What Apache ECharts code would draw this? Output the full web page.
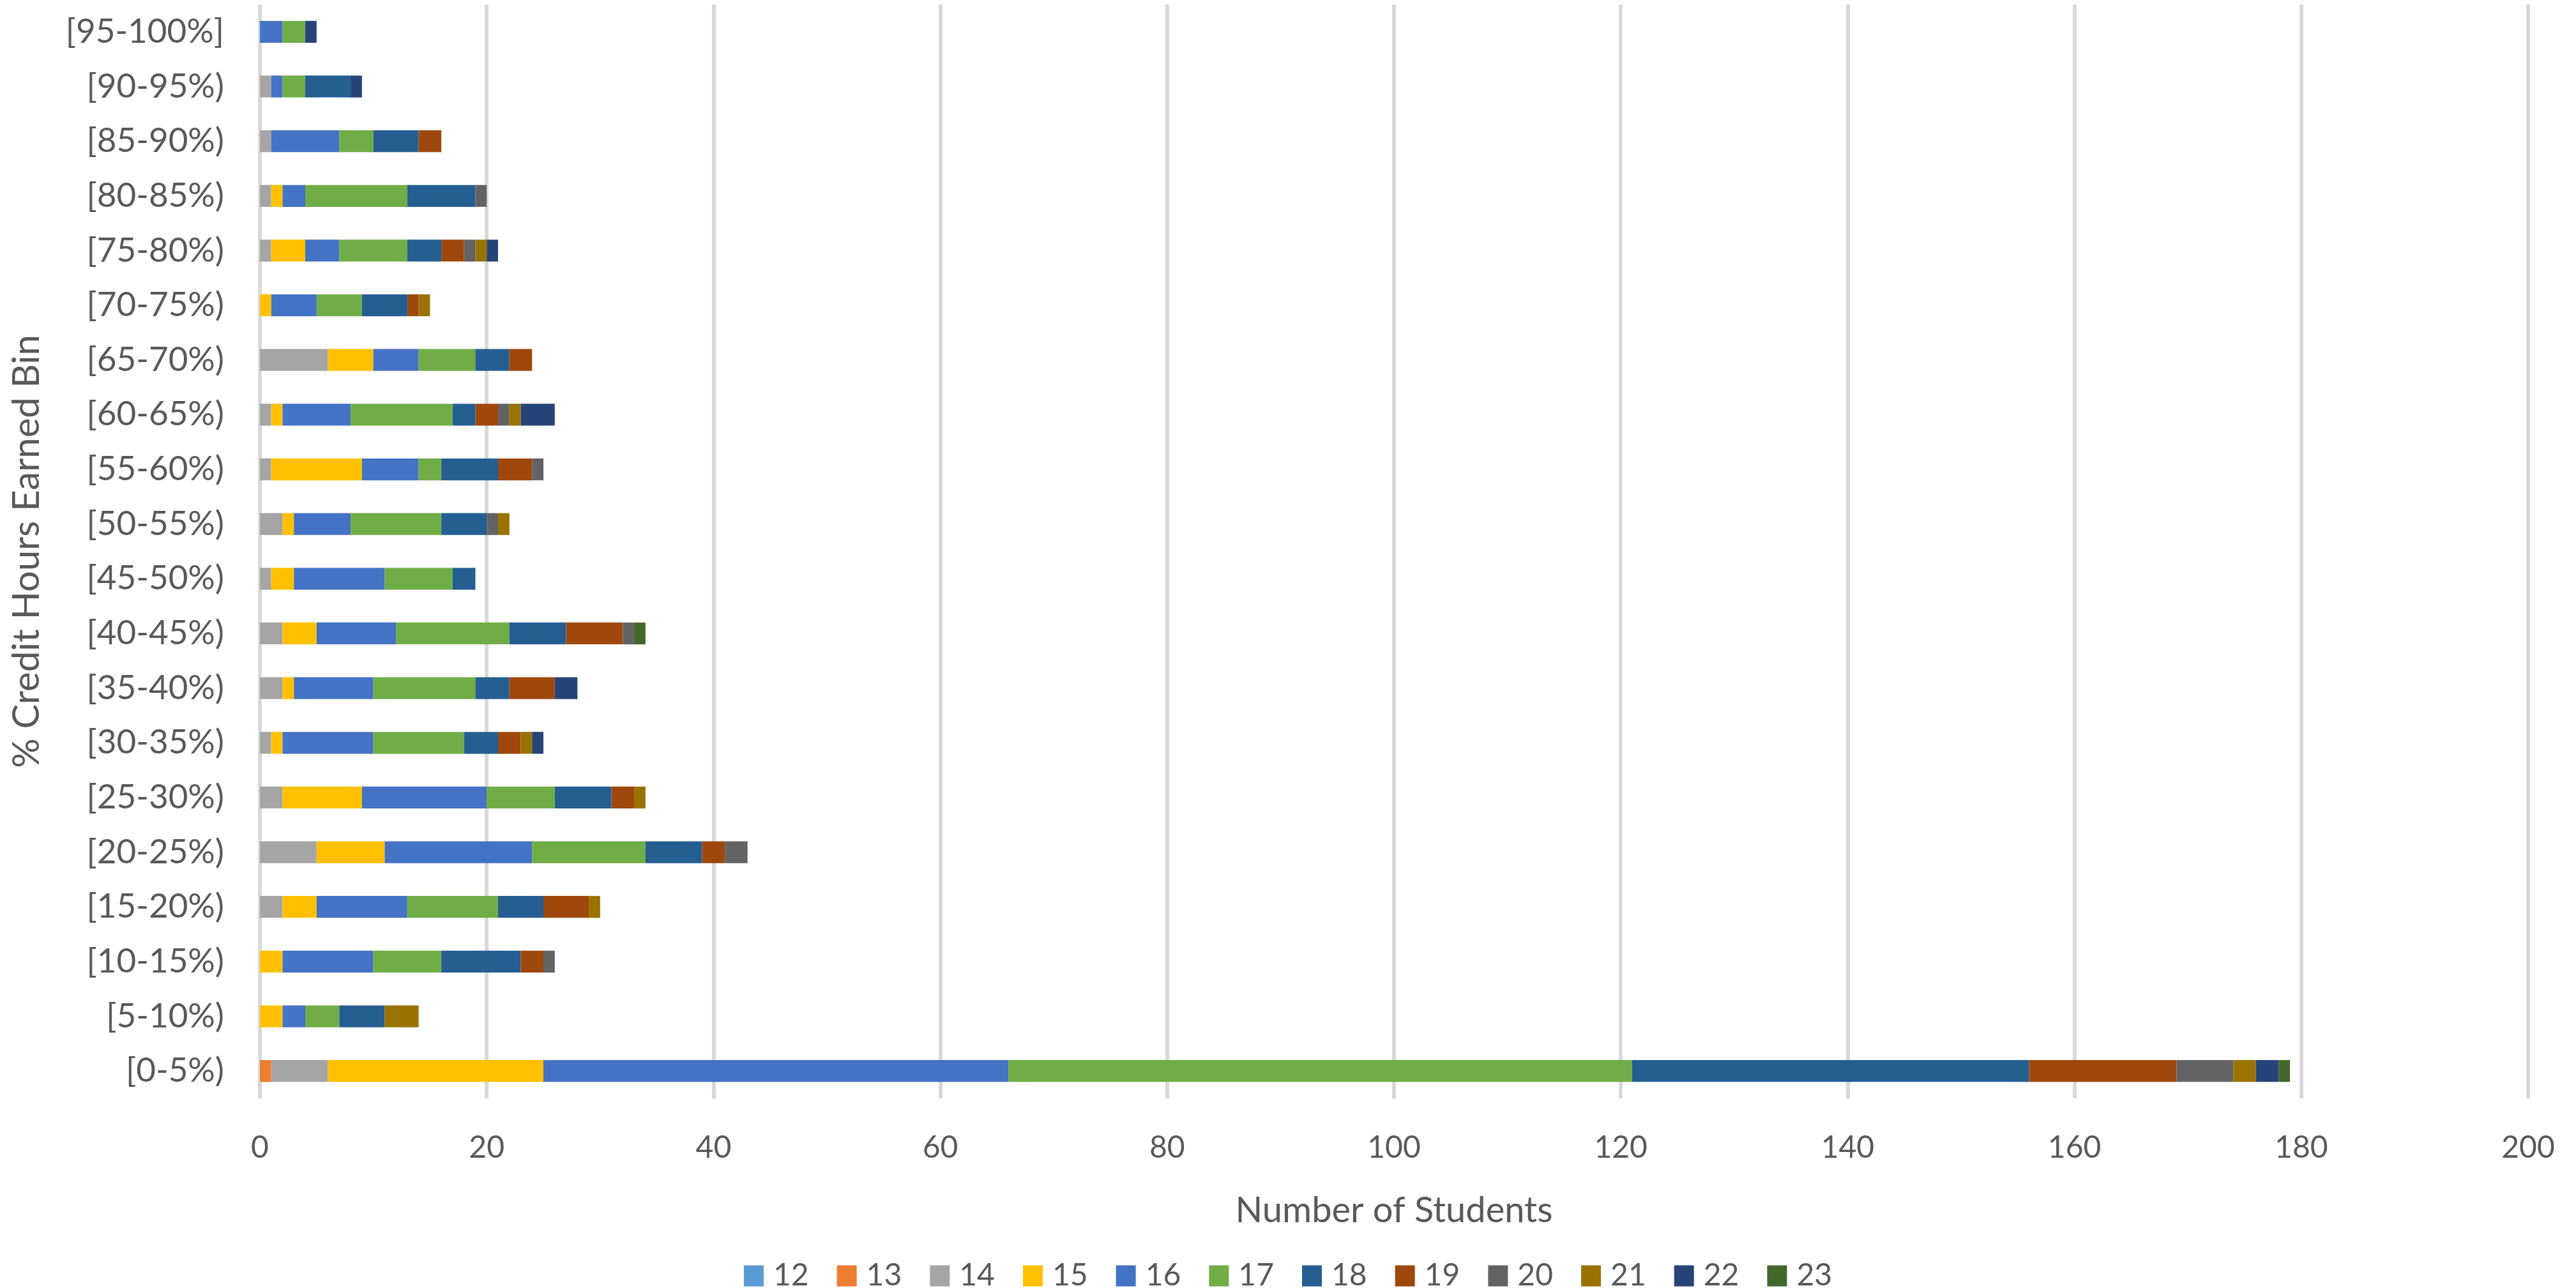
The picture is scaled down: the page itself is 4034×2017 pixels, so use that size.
<!DOCTYPE html>
<html>
<head>
<meta charset="utf-8">
<script src="https://cdn.jsdelivr.net/npm/echarts@6/dist/echarts.min.js"></script>
<style>html,body{margin:0;padding:0;background:#fff;}#c{width:4034px;height:2017px;}</style>
</head>
<body>
<div id="c"></div>
<script>
const categories = ['[0-5%)','[5-10%)','[10-15%)','[15-20%)','[20-25%)','[25-30%)','[30-35%)','[35-40%)','[40-45%)','[45-50%)','[50-55%)','[55-60%)','[60-65%)','[65-70%)','[70-75%)','[75-80%)','[80-85%)','[85-90%)','[90-95%)','[95-100%]'];
const seriesNames = ['12','13','14','15','16','17','18','19','20','21','22','23'];
const age12 = [0,0,0,0,0,0,0,0,0,0,0,0,0,0,0,0,0,0,0,0];
const age13 = [1,0,0,0,0,0,0,0,0,0,0,0,0,0,0,0,0,0,0,0];
const age14 = [5,0,0,2,5,2,1,2,2,1,2,1,1,6,0,1,1,1,1,0];
const age15 = [19,2,2,3,6,7,1,1,3,2,1,8,1,4,1,3,1,0,0,0];
const age16 = [41,2,8,8,13,11,8,7,7,8,5,5,6,4,4,3,2,6,1,2];
const age17 = [55,3,6,8,10,6,8,9,10,6,8,2,9,5,4,6,9,3,2,2];
const age18 = [35,4,7,4,5,5,3,3,5,2,4,5,2,3,4,3,6,4,4,0];
const age19 = [13,0,2,4,2,2,2,4,5,0,0,3,2,2,1,2,0,2,0,0];
const age20 = [5,0,1,0,2,0,0,0,1,0,1,1,1,0,0,1,1,0,0,0];
const age21 = [2,3,0,1,0,1,1,0,0,0,1,0,1,0,1,1,0,0,0,0];
const age22 = [2,0,0,0,0,0,1,2,0,0,0,0,3,0,0,1,0,0,1,1];
const age23 = [1,0,0,0,0,0,0,0,1,0,0,0,0,0,0,0,0,0,0,0];
const seriesValues = [age12,age13,age14,age15,age16,age17,age18,age19,age20,age21,age22,age23];
const xTicks = {min: 0, max: 200, interval: 20};

const colors = ['#5B9BD5','#ED7D31','#A5A5A5','#FFC000','#4472C4','#70AD47','#255E91','#9E480E','#636363','#997300','#264478','#43682B'];
const font = 'Lato, "Open Sans", sans-serif';
const txt = '#595959';

const chart = echarts.init(document.getElementById('c'), null, {renderer: 'canvas'});
chart.setOption({
  animation: false,
  backgroundColor: '#fff',
  color: colors,
  grid: {left: 407, right: 75, top: 7, bottom: 297, containLabel: false},
  legend: {
    data: seriesNames,
    top: 1969,
    left: 'center',
    itemWidth: 31,
    itemHeight: 33,
    itemGap: 44,
    icon: 'rect',
    textStyle: {fontFamily: font, fontSize: 48, color: txt, padding: [0,0,0,10]}
  },
  xAxis: {
    type: 'value',
    min: xTicks.min, max: xTicks.max, interval: xTicks.interval,
    name: 'Number of Students',
    nameLocation: 'middle',
    nameGap: 148,
    nameTextStyle: {fontFamily: font, fontSize: 56, color: txt},
    axisLine: {show: false},
    axisTick: {show: false},
    axisLabel: {fontFamily: font, fontSize: 48, color: txt, margin: 54},
    splitLine: {show: true, lineStyle: {color: '#D9D9D9', width: 6}}
  },
  yAxis: {
    type: 'category',
    data: categories,
    name: '% Credit Hours Earned Bin',
    nameLocation: 'middle',
    nameGap: 336,
    nameRotate: 90,
    nameTextStyle: {fontFamily: font, fontSize: 58, color: txt},
    axisLine: {show: false},
    axisTick: {show: false},
    axisLabel: {fontFamily: font, fontSize: 53, color: txt, margin: 56},
    splitLine: {show: false}
  },
  series: seriesNames.map((n, i) => ({
    name: n,
    type: 'bar',
    stack: 'total',
    barWidth: '40%',
    data: seriesValues[i],
    itemStyle: {color: colors[i]}
  }))
});
</script>
</body>
</html>
